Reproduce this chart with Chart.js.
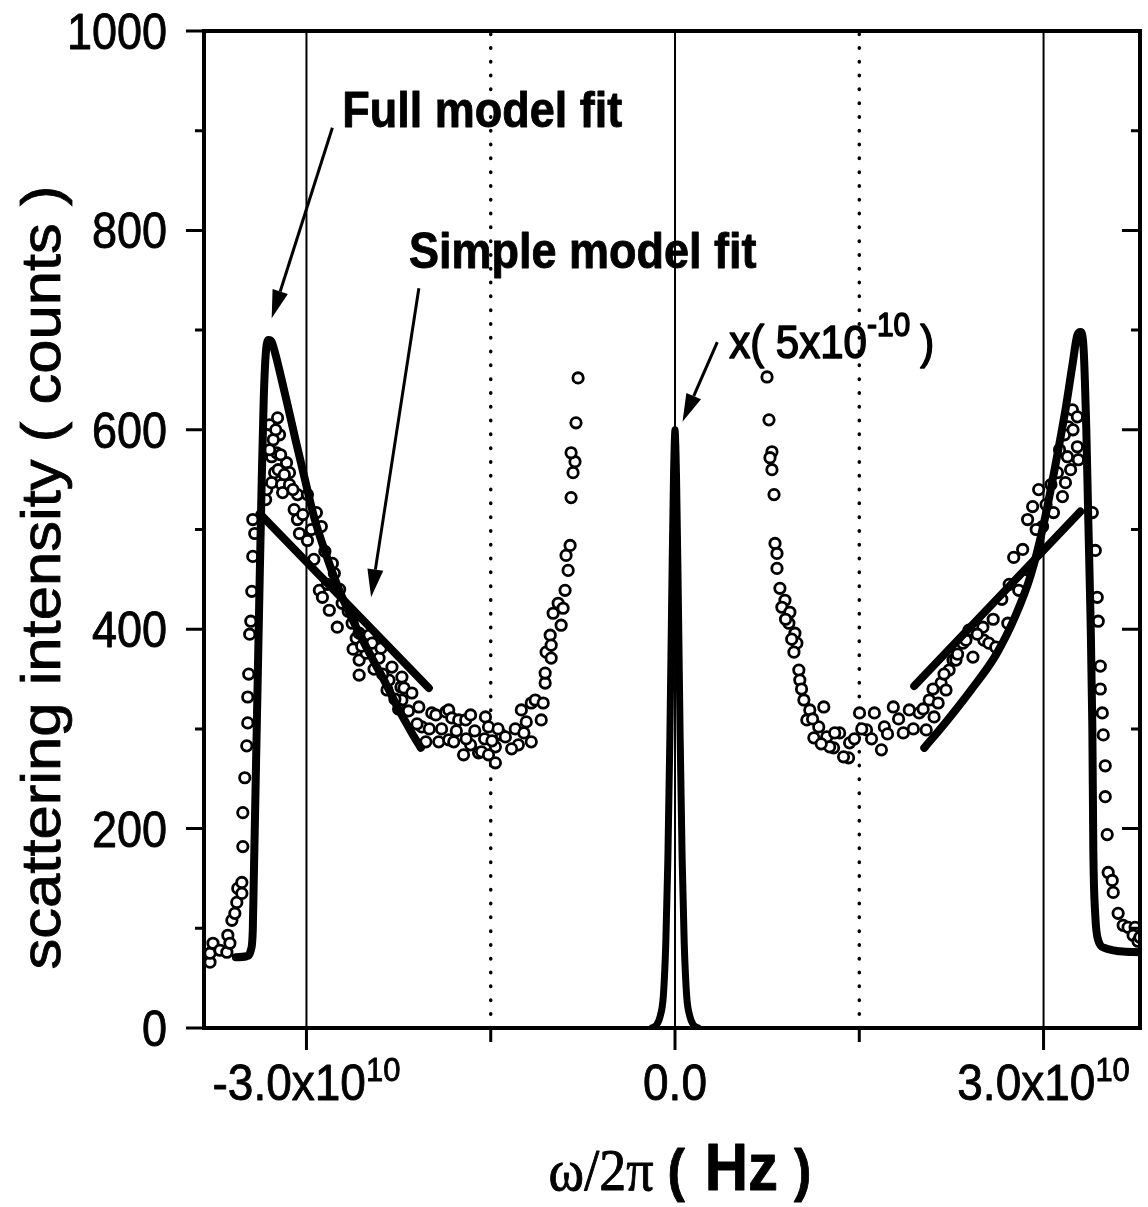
<!DOCTYPE html>
<html>
<head>
<meta charset="utf-8">
<script src="https://cdn.jsdelivr.net/npm/chart.js@4.4.1/dist/chart.umd.min.js"></script>
<style>
  html, body { margin: 0; padding: 0; background: #fff; }
  #wrap { width: 1148px; height: 1207px; }
</style>
</head>
<body>
<div id="wrap"><canvas id="spectrum" width="1148" height="1207"></canvas></div>
<script>
// frequencies are in units of 1e10 Hz, intensities in counts

// measured spectrum (open circles)
const dataFreq = [
  -3.785, -3.785, -3.761, -3.704, -3.648, -3.640, -3.623, -3.607, -3.583, -3.567,
  -3.559, -3.526, -3.526, -3.518, -3.518, -3.502, -3.486, -3.478, -3.478, -3.470,
  -3.462, -3.453, -3.445, -3.437, -3.421, -3.437, -3.332, -3.324, -3.283, -3.283,
  -3.300, -3.235, -3.219, -3.243, -3.259, -3.202, -3.194, -3.162, -3.138, -3.138,
  -3.073, -3.073, -3.057, -2.992, -2.992, -2.919, -2.879, -2.895, -2.870, -2.814,
  -2.789, -2.773, -2.749, -2.709, -2.628, -2.595, -2.571, -2.571, -2.571, -2.514,
  -2.490, -2.466, -2.409, -2.393, -2.344, -2.328, -2.304, -2.231, -2.223, -2.223,
  -2.206, -2.142, -2.085, -2.061, -2.028, -1.980, -1.947, -1.923, -1.866, -1.842,
  -1.842, -1.817, -1.801, -1.761, -1.721, -1.704, -1.664, -1.664, -1.599, -1.575,
  -1.543, -1.518, -1.518, -1.462, -1.462, -1.413, -1.381, -1.275, -1.251, -1.211,
  -1.170, -1.170, -1.138, -1.089, -1.073, -1.057, -1.057, -1.049, -1.016, -1.008,
  -1.008, -0.992, -0.951, -0.927, -0.911, -0.895, -0.887, -0.870, -0.854, -0.846,
  -0.830, -0.814, -0.846, -0.806, -0.789,
  -3.300, -3.270, -3.250, -3.230, -3.210, -3.180, -3.110, -3.100, -3.030, -2.960,
  -2.940, -2.850, -2.830, -2.730, -2.660, -2.620, -2.550, -2.450, -2.380, -2.280,
  -2.250, -2.170, -2.100, -2.000, -1.900, -1.780, -1.700, -1.630, -1.550, -1.490,
  -1.440, -1.330, -1.300, -1.230,
  0.749, 0.765, 0.789, 0.773, 0.789, 0.806, 0.814, 0.830, 0.830, 0.854,
  0.895, 0.870, 0.935, 0.927, 0.976, 0.992, 0.968, 1.008, 1.016, 1.049,
  1.097, 1.211, 1.073, 1.170, 1.130, 1.235, 1.291, 1.340, 1.413, 1.421,
  1.372, 1.259, 1.502, 1.559, 1.623, 1.680, 1.704, 1.777, 1.858, 1.907,
  1.988, 2.045, 2.069, 2.109, 2.142, 2.166, 2.206, 2.231, 2.263, 2.287,
  2.344, 2.368, 2.393, 2.425, 2.506, 2.514, 2.555, 2.611, 2.709, 2.798,
  2.757, 2.879, 2.911, 2.870, 2.960, 2.992, 3.081, 3.154, 3.178, 3.113,
  3.194, 3.275, 3.202, 3.235, 3.275, 3.283, 3.397, 3.421, 3.437, 3.445,
  3.462, 3.462, 3.478, 3.486, 3.502, 3.502, 3.518, 3.526, 3.559, 3.567,
  3.607, 3.648, 3.688, 3.745, 3.729, 3.769, 3.785,
  0.900, 0.950, 1.030, 1.120, 1.190, 1.300, 1.460, 1.520, 1.600, 1.730,
  1.820, 1.940, 2.020, 2.100, 2.190, 2.300, 2.460, 2.590, 2.660, 2.720,
  2.830, 2.940, 3.020, 3.060, 3.130, 3.170, 3.240, 3.220
];
const dataCounts = [
  66, 75, 85, 78, 76, 93, 85, 108, 115, 126,
  140, 135, 146, 182, 216, 251, 283, 306, 332, 355,
  395, 408, 438, 473, 496, 510, 530, 540, 547, 573,
  605, 612, 595, 577, 557, 545, 537, 567, 557, 545,
  535, 510, 496, 535, 489, 517, 503, 439, 432, 419,
  466, 456, 402, 426, 406, 391, 396, 354, 369, 376,
  394, 386, 371, 381, 339, 349, 362, 342, 352, 329,
  341, 336, 322, 302, 287, 316, 314, 287, 317, 319,
  289, 311, 287, 309, 274, 309, 314, 284, 276, 277,
  312, 302, 274, 282, 266, 294, 292, 284, 319, 307,
  287, 326, 329, 309, 326, 346, 356, 377, 394, 384,
  371, 416, 426, 404, 421, 439, 474, 459, 484, 532,
  557, 568, 577, 607, 652,
  580, 590, 600, 560, 575, 555, 540, 520, 515, 500,
  470, 478, 445, 440, 418, 380, 383, 360, 355, 330,
  320, 318, 305, 300, 300, 298, 290, 298, 290, 288,
  300, 280, 300, 296,
  653, 610, 578, 572, 560, 535, 486, 476, 461, 441,
  429, 422, 417, 406, 396, 386, 377, 359, 349, 329,
  319, 322, 309, 302, 291, 292, 281, 296, 271, 286,
  272, 282, 316, 299, 316, 279, 302, 322, 296, 319,
  316, 299, 329, 312, 326, 346, 339, 359, 369, 369,
  386, 389, 399, 372, 402, 389, 386, 382, 406, 439,
  472, 459, 523, 510, 540, 503, 517, 533, 547, 557,
  573, 583, 603, 620, 613, 570, 517, 479, 432, 408,
  363, 340, 316, 294, 263, 232, 194, 156, 148, 136,
  115, 103, 101, 101, 93, 87, 91,
  410, 390, 340, 310, 285, 296, 290, 300, 290, 295,
  310, 300, 320, 340, 355, 375, 395, 410, 430, 445,
  480, 500, 525, 545, 580, 595, 600, 560
];

// full model fit, both Brillouin sides
const fullLeftFreq = [-3.575, -3.486, -3.453, -3.437, -3.429, -3.413, -3.397, -3.381, -3.364, -3.348,
  -3.332, -3.308, -3.283, -3.251, -3.211, -3.154, -3.089, -3.016, -2.935, -2.838,
  -2.733, -2.595, -2.466, -2.352, -2.247, -2.142, -2.069];
const fullLeftCounts = [71, 72, 78, 98, 148, 249, 349, 449, 550, 630,
  675, 690, 688, 675, 655, 625, 590, 552, 511, 474,
  439, 402, 371, 345, 319, 296, 281];
const fullRightFreq = [2.029, 2.206, 2.409, 2.611, 2.773, 2.895, 3.000, 3.097, 3.178, 3.235,
  3.275, 3.300, 3.324, 3.348, 3.364, 3.381, 3.397, 3.405, 3.421, 3.445,
  3.502, 3.623, 3.785];
const fullRightCounts = [281, 307, 339, 374, 414, 454, 505, 565, 620, 665,
  695, 698, 685, 600, 510, 419, 302, 179, 113, 88,
  80, 77, 76];

// simple model fit
const simpleLeftFreq = [-3.381, -2.004];
const simpleLeftCounts = [516, 341];
const simpleRightFreq = [1.947, 3.300];
const simpleRightCounts = [343, 518];

// central (elastic) line, scaled by 5x10^-10
const peakFreq = [-0.19, -0.15, -0.12, -0.095, -0.075, -0.058, -0.042, -0.026, -0.012, 0,
  0.012, 0.026, 0.042, 0.058, 0.075, 0.095, 0.12, 0.15, 0.19];
const peakCounts = [0, 3, 12, 32, 85, 170, 290, 440, 555, 600,
  555, 440, 290, 170, 85, 32, 12, 3, 0];

// axes
const xMin = -3.834, xMax = 3.785;
const xTickValues = [-3, -1.5, 0, 1.5, 3];
const xLabelValues = [-3, 0, 3];
const yTickValues = [0, 100, 200, 300, 400, 500, 600, 700, 800, 900, 1000];
const yLabelValues = [0, 200, 400, 600, 800, 1000];
const solidMarkers = [-3, 0, 3];
const dottedMarkers = [-1.5, 1.5];

// annotations (data coordinates)
const notes = [
  { text: 'Full model fit', x: -2.709, y: 904 },
  { text: 'Simple model fit', x: -2.166, y: 762 }
];
const arrows = [
  [-2.789, 903, -3.283, 712],
  [-2.085, 742, -2.474, 432],
  [0.344, 688, 0.061, 608]
];
const scaleNote = { x: 0.441, y: 672 };

const sans = '"Liberation Sans", Arial, Helvetica, sans-serif';
const serif = '"Liberation Serif", "Times New Roman", serif';
const STRETCH = 1.1;

function zip(xs, ys) {
  return xs.map((v, i) => ({ x: v, y: ys[i] }));
}

function fitLine(xs, ys) {
  return {
    data: zip(xs, ys),
    showLine: true,
    borderColor: '#000',
    borderWidth: 8,
    pointRadius: 0,
    cubicInterpolationMode: 'monotone',
    borderCapStyle: 'round',
    borderJoinStyle: 'round',
    order: 0
  };
}

function marker(v, dotted) {
  return {
    data: [{ x: v, y: 0 }, { x: v, y: 1000 }],
    showLine: true,
    borderColor: '#000',
    borderWidth: dotted ? 3.5 : 2,
    borderDash: dotted ? [0.5, 13.3] : [],
    borderCapStyle: dotted ? 'round' : 'butt',
    pointRadius: 0,
    order: 3
  };
}

// text made of pieces (superscripts, mixed fonts), slightly tall like the print
function drawRich(ctx, parts, x, y, align, weight) {
  let w = 0;
  parts.forEach(p => { ctx.font = p.font; w += ctx.measureText(p.t).width + (p.gap || 0); });
  ctx.save();
  const x0 = align === 'center' ? x - w / 2 : align === 'right' ? x - w : x;
  ctx.translate(x0, y);
  ctx.scale(1, STRETCH);
  ctx.textAlign = 'left';
  ctx.textBaseline = 'alphabetic';
  ctx.lineWidth = weight || 0.8;
  ctx.lineJoin = 'round';
  let cx = 0;
  parts.forEach(p => {
    ctx.font = p.font;
    ctx.fillText(p.t, cx, p.dy || 0);
    ctx.strokeText(p.t, cx, p.dy || 0);
    cx += ctx.measureText(p.t).width + (p.gap || 0);
  });
  ctx.restore();
}

function drawArrow(ctx, x0, y0, x1, y1) {
  const ang = Math.atan2(y1 - y0, x1 - x0), L = 28, W = 8;
  const bx = x1 - L * Math.cos(ang), by = y1 - L * Math.sin(ang);
  ctx.lineWidth = 3;
  ctx.beginPath(); ctx.moveTo(x0, y0); ctx.lineTo(bx, by); ctx.stroke();
  ctx.beginPath();
  ctx.moveTo(x1, y1);
  ctx.lineTo(bx + W * Math.sin(ang), by - W * Math.cos(ang));
  ctx.lineTo(bx - W * Math.sin(ang), by + W * Math.cos(ang));
  ctx.closePath();
  ctx.fill();
}

function xLabelParts(v) {
  const f = `46px ${sans}`, sup = `31px ${sans}`;
  if (v === 0) return [{ t: '0.0', font: f }];
  return [{ t: v.toFixed(1) + 'x10', font: f }, { t: '10', font: sup, dy: -17 }];
}

const decor = {
  id: 'decor',
  afterDatasetsDraw(chart) {
    const { ctx, chartArea: a, scales: { x, y } } = chart;
    ctx.save();
    ctx.strokeStyle = '#000';
    ctx.fillStyle = '#000';

    // frame
    ctx.lineWidth = 4;
    ctx.strokeRect(a.left, a.top, a.right - a.left, a.bottom - a.top);

    // y ticks: outward on the left, inward on the right
    ctx.lineWidth = 3;
    yTickValues.forEach(v => {
      const py = y.getPixelForValue(v);
      const len = v % 200 === 0 ? 18 : 9;
      ctx.beginPath();
      ctx.moveTo(a.left - len, py); ctx.lineTo(a.left, py);
      ctx.moveTo(a.right - len, py); ctx.lineTo(a.right, py);
      ctx.stroke();
    });

    // x ticks, outward at the bottom
    xTickValues.forEach(v => {
      const px = x.getPixelForValue(v);
      const len = v % 3 === 0 ? 22 : 14;
      ctx.beginPath();
      ctx.moveTo(px, a.bottom); ctx.lineTo(px, a.bottom + len);
      ctx.stroke();
    });

    // tick labels
    yLabelValues.forEach(v => {
      drawRich(ctx, [{ t: String(v), font: `45px ${sans}` }],
        a.left - 37, y.getPixelForValue(v) + 18, 'right');
    });
    xLabelValues.forEach(v => {
      drawRich(ctx, xLabelParts(v), x.getPixelForValue(v), a.bottom + 72, 'center');
    });

    // axis titles
    drawRich(ctx, [
      { t: 'ω/2π', font: `54px ${serif}`, gap: 14 },
      { t: '(', font: `bold 52px ${sans}`, gap: 20 },
      { t: 'Hz', font: `bold 60px ${sans}`, gap: 16 },
      { t: ')', font: `bold 52px ${sans}` }
    ], 680, a.bottom + 162, 'center');

    ctx.save();
    ctx.translate(60, (a.top + a.bottom) / 2 + 48);
    ctx.rotate(-Math.PI / 2);
    ctx.scale(STRETCH, 1);
    ctx.font = `56px ${sans}`;
    ctx.textAlign = 'center';
    ctx.textBaseline = 'alphabetic';
    ctx.lineWidth = 0.8;
    ctx.fillText('scattering intensity ( counts )', 0, 0);
    ctx.strokeText('scattering intensity ( counts )', 0, 0);
    ctx.restore();

    // annotations
    notes.forEach(n => {
      drawRich(ctx, [{ t: n.text, font: `bold 45px ${sans}` }],
        x.getPixelForValue(n.x), y.getPixelForValue(n.y), 'left');
    });
    drawRich(ctx, [
      { t: 'x( 5x10', font: `42px ${sans}` },
      { t: '-10', font: `30px ${sans}`, dy: -20, gap: 10 },
      { t: ')', font: `42px ${sans}` }
    ], x.getPixelForValue(scaleNote.x), y.getPixelForValue(scaleNote.y), 'left', 1.4);

    arrows.forEach(([x0, y0, x1, y1]) => {
      drawArrow(ctx, x.getPixelForValue(x0), y.getPixelForValue(y0),
        x.getPixelForValue(x1), y.getPixelForValue(y1));
    });

    ctx.restore();
  }
};

new Chart(document.getElementById('spectrum'), {
  type: 'scatter',
  data: {
    datasets: [
      fitLine(fullLeftFreq, fullLeftCounts),
      fitLine(fullRightFreq, fullRightCounts),
      fitLine(simpleLeftFreq, simpleLeftCounts),
      fitLine(simpleRightFreq, simpleRightCounts),
      Object.assign(fitLine(peakFreq, peakCounts), { borderWidth: 7 }),
      {
        data: zip(dataFreq, dataCounts),
        pointRadius: 5.2,
        pointBorderWidth: 2.8,
        pointBackgroundColor: '#fff',
        pointBorderColor: '#000',
        order: 2
      },
      ...solidMarkers.map(v => marker(v, false)),
      ...dottedMarkers.map(v => marker(v, true))
    ]
  },
  options: {
    responsive: false,
    animation: false,
    events: [],
    layout: { padding: { top: 31, right: 3, left: 0, bottom: 0 } },
    scales: {
      x: {
        type: 'linear',
        min: xMin, max: xMax,
        afterFit(s) { s.height = 179; s.paddingLeft = 0; s.paddingRight = 0; },
        ticks: { display: false },
        grid: { drawOnChartArea: false, drawTicks: false },
        border: { display: false }
      },
      y: {
        type: 'linear',
        min: 0, max: 1000,
        afterFit(s) { s.width = 204; s.paddingTop = 0; s.paddingBottom = 0; },
        ticks: { display: false },
        grid: { drawOnChartArea: false, drawTicks: false },
        border: { display: false }
      }
    },
    plugins: {
      legend: { display: false },
      tooltip: { enabled: false }
    }
  },
  plugins: [decor]
});
</script>
</body>
</html>
